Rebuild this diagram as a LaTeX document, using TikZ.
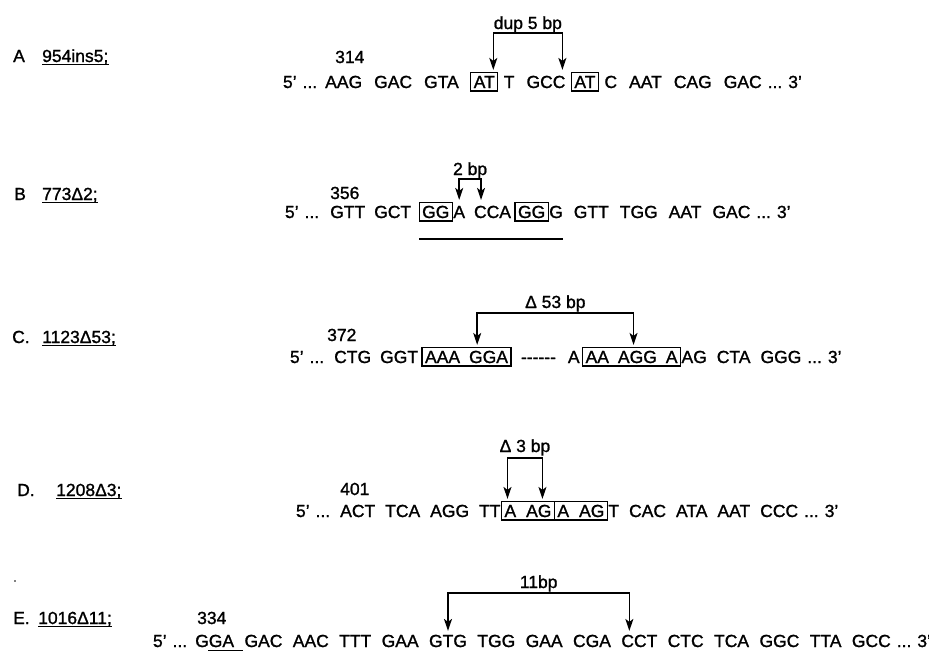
\documentclass[tikz,border=0pt]{standalone}
\usepackage{fontspec}
\setmainfont{Liberation Sans}[FakeBold=1.2]
\usetikzlibrary{arrows.meta,calc}
\newcommand\nxt[5]{\node[#4] (#1) at ([xshift=#3pt]#2.east) {#5};}
\begin{document}
\begin{tikzpicture}[x=1pt,y=-1pt,
  every node/.style={font=\fontsize{17.5pt}{20pt}\selectfont},
  tok/.style={inner sep=0pt, outer sep=0pt, text height=12.6pt, text depth=0pt, anchor=west},
  bx/.style={draw, line width=1.2pt, inner xsep=3pt, inner ysep=3pt, outer sep=0pt, text height=12.6pt, text depth=0pt, anchor=west},
  txt/.style={inner sep=0pt, anchor=base west},
  brk/.style={line width=1.5pt, {Stealth[length=12pt,width=8pt,inset=3pt]}-{Stealth[length=12pt,width=8pt,inset=3pt]}},
  uline/.style={line width=1.3pt},
]
\useasboundingbox (0,0) rectangle (929,659);
\fill[white] (0,0) rectangle (929,659);

% ---------------- Row A ----------------
\node[txt] (lA) at (13,62) {A};
\node[txt] (nA) at (42,62) {954ins5;};
\draw[uline] ($(nA.base west)+(0,2.5)$) -- ($(nA.base east)+(0,2.5)$);
\node[txt] (pA) at (335,63) {314};
\node[tok] (A1) at (283,81.7) {5'};
\nxt{A2}{A1}{6}{tok}{...}
\nxt{A3}{A2}{8}{tok}{AAG}
\nxt{A4}{A3}{12}{tok}{GAC}
\nxt{A5}{A4}{12}{tok}{GTA}
\nxt{A6}{A5}{12}{bx}{AT}
\nxt{A7}{A6}{6}{tok}{T}
\nxt{A8}{A7}{12}{tok}{GCC}
\nxt{A9}{A8}{6}{bx}{AT}
\nxt{A10}{A9}{6}{tok}{C}
\nxt{A11}{A10}{12}{tok}{AAT}
\nxt{A12}{A11}{12}{tok}{CAG}
\nxt{A13}{A12}{12}{tok}{GAC}
\nxt{A14}{A13}{6}{tok}{...}
\nxt{A15}{A14}{6}{tok}{3'}
\coordinate (tA1) at ($(A6.north)+(9,-2.5)$);
\coordinate (tA2) at ($(A8.east |- tA1)+(-3,0)$);
\draw[brk] (tA1) -- (tA1 |- 0,33) -- (tA2 |- 0,33) -- (tA2);
\path (tA1) -- (tA2) coordinate[pos=.5] (mA);
\node[txt, anchor=base] (dA) at (mA |- 0,29) {dup 5 bp};

% ---------------- Row B ----------------
\node[txt] (lB) at (14,200) {B};
\node[txt] (nB) at (42,200) {773Δ2;};
\draw[uline] ($(nB.base west)+(0,2.5)$) -- ($(nB.base east)+(0,2.5)$);
\node[txt] (pB) at (330,199) {356};
\node[tok] (B1) at (285,211.7) {5'};
\nxt{B2}{B1}{6}{tok}{...}
\nxt{B3}{B2}{11}{tok}{GTT}
\nxt{B4}{B3}{9}{tok}{GCT}
\nxt{B5}{B4}{8}{bx}{GG}
\nxt{B6}{B5}{1}{tok}{A}
\nxt{B7}{B6}{9}{tok}{CCA}
\nxt{B8}{B7}{4}{bx}{GG}
\nxt{B9}{B8}{1}{tok}{G}
\nxt{B10}{B9}{11}{tok}{GTT}
\nxt{B11}{B10}{11}{tok}{TGG}
\nxt{B12}{B11}{11}{tok}{AAT}
\nxt{B13}{B12}{11}{tok}{GAC}
\nxt{B14}{B13}{6}{tok}{...}
\nxt{B15}{B14}{6}{tok}{3'}
\coordinate (tB1) at ($(B6.north |- B5.north)+(0,-2.5)$);
\coordinate (tB2) at ($(B7.west |- B5.north)+(7,-2.5)$);
\draw[brk] (tB1) -- (tB1 |- 0,179) -- (tB2 |- 0,179) -- (tB2);
\path (tB1) -- (tB2) coordinate[pos=.5] (mB);
\node[txt, anchor=base] (dB) at (mB |- 0,175) {2 bp};
\draw[uline] (B5.west |- 0,239) -- (B9.east |- 0,239);

% ---------------- Row C ----------------
\node[txt] (lC) at (12,343) {C.};
\node[txt] (nC) at (42,343) {1123Δ53;};
\draw[uline] ($(nC.base west)+(0,2.5)$) -- ($(nC.base east)+(0,2.5)$);
\node[txt] (pC) at (327,341) {372};
\node[tok] (C1) at (290,356.7) {5'};
\nxt{C2}{C1}{6}{tok}{...}
\nxt{C3}{C2}{10}{tok}{CTG}
\nxt{C4}{C3}{9}{tok}{GGT}
\nxt{C5}{C4}{4}{bx}{AAA\hspace{9pt}GGA}
\nxt{C6}{C5}{10}{tok}{-{}-{}-{}-{}-{}-}
\nxt{C7}{C6}{12}{tok}{A}
\nxt{C8}{C7}{3}{bx}{AA\hspace{9pt}AGG\hspace{9pt}A}
\nxt{C9}{C8}{1}{tok}{AG}
\nxt{C10}{C9}{10}{tok}{CTA}
\nxt{C11}{C10}{10}{tok}{GGG}
\nxt{C12}{C11}{6}{tok}{...}
\nxt{C13}{C12}{6}{tok}{3'}
\coordinate (tC1) at ($(C5.north west)!0.62!(C5.north east)+(0,-2.5)$);
\coordinate (tC2) at ($(C8.north west)!0.52!(C8.north east)+(0,-2.5)$);
\draw[brk] (tC1) -- (tC1 |- 0,313) -- (tC2 |- 0,313) -- (tC2);
\path (tC1) -- (tC2) coordinate[pos=.5] (mC);
\node[txt, anchor=base] (dC) at (mC |- 0,308) {Δ 53 bp};

% ---------------- Row D ----------------
\node[txt] (lD) at (17,496) {D.};
\node[txt] (nD) at (56,496) {1208Δ3;};
\draw[uline] ($(nD.base west)+(0,2.5)$) -- ($(nD.base east)+(0,2.5)$);
\node[txt] (pD) at (340,495) {401};
\node[tok] (D1) at (296,510.7) {5'};
\nxt{D2}{D1}{6}{tok}{...}
\nxt{D3}{D2}{10}{tok}{ACT}
\nxt{D4}{D3}{10}{tok}{TCA}
\nxt{D5}{D4}{10}{tok}{AGG}
\nxt{D6}{D5}{10}{tok}{TT}
\nxt{D7}{D6}{1}{bx}{A\hspace{10pt}AG}
\nxt{D8}{D7}{0}{bx}{A\hspace{10pt}AG}
\nxt{D9}{D8}{1}{tok}{T}
\nxt{D10}{D9}{10}{tok}{CAC}
\nxt{D11}{D10}{10}{tok}{ATA}
\nxt{D12}{D11}{10}{tok}{AAT}
\nxt{D13}{D12}{10}{tok}{CCC}
\nxt{D14}{D13}{6}{tok}{...}
\nxt{D15}{D14}{6}{tok}{3'}
\coordinate (tD1) at ($(D7.north west)+(6,-2.5)$);
\coordinate (tD2) at ($(D7.north east)+(-12,-2.5)$);
\draw[brk] (tD1) -- (tD1 |- 0,458) -- (tD2 |- 0,458) -- (tD2);
\path (tD1) -- (tD2) coordinate[pos=.5] (mD);
\node[txt, anchor=base] (dD) at (mD |- 0,452) {Δ 3 bp};

% ---------------- Row E ----------------
\fill (15,581) circle (0.9);
\node[txt] (lE) at (13,624) {E.};
\node[txt] (nE) at (38,624) {1016Δ11;};
\draw[uline] ($(nE.base west)+(0,2.5)$) -- ($(nE.base east)+(0,2.5)$);
\node[txt] (pE) at (197,624) {334};
\node[tok] (E1) at (153,640.7) {5'};
\nxt{E2}{E1}{6}{tok}{...}
\nxt{E3}{E2}{8}{tok}{GGA}
\nxt{E4}{E3}{10.4}{tok}{GAC}
\nxt{E5}{E4}{10.4}{tok}{AAC}
\nxt{E6}{E5}{10.4}{tok}{TTT}
\nxt{E7}{E6}{10.4}{tok}{GAA}
\nxt{E8}{E7}{10.4}{tok}{GTG}
\nxt{E9}{E8}{10.4}{tok}{TGG}
\nxt{E10}{E9}{10.4}{tok}{GAA}
\nxt{E11}{E10}{10.4}{tok}{CGA}
\nxt{E12}{E11}{10.4}{tok}{CCT}
\nxt{E13}{E12}{10.4}{tok}{CTC}
\nxt{E14}{E13}{10.4}{tok}{TCA}
\nxt{E15}{E14}{10.4}{tok}{GGC}
\nxt{E16}{E15}{10.4}{tok}{TTA}
\nxt{E17}{E16}{10.4}{tok}{GCC}
\nxt{E18}{E17}{6}{tok}{...}
\nxt{E19}{E18}{6}{tok}{3'}
\draw[line width=1pt] ($(E3.south west)+(13,3)$) -- ($(E4.south west)+(-2,3)$);
\coordinate (tE1) at ($(E8.north)+(0,-3.5)$);
\coordinate (tE2) at ($(E12.north west)+(8,-3.5)$);
\draw[brk] (tE1) -- (tE1 |- 0,593) -- (tE2 |- 0,593) -- (tE2);
\path (tE1) -- (tE2) coordinate[pos=.5] (mE);
\node[txt, anchor=base] (dE) at (mE |- 0,588) {11bp};
\end{tikzpicture}
\end{document}
